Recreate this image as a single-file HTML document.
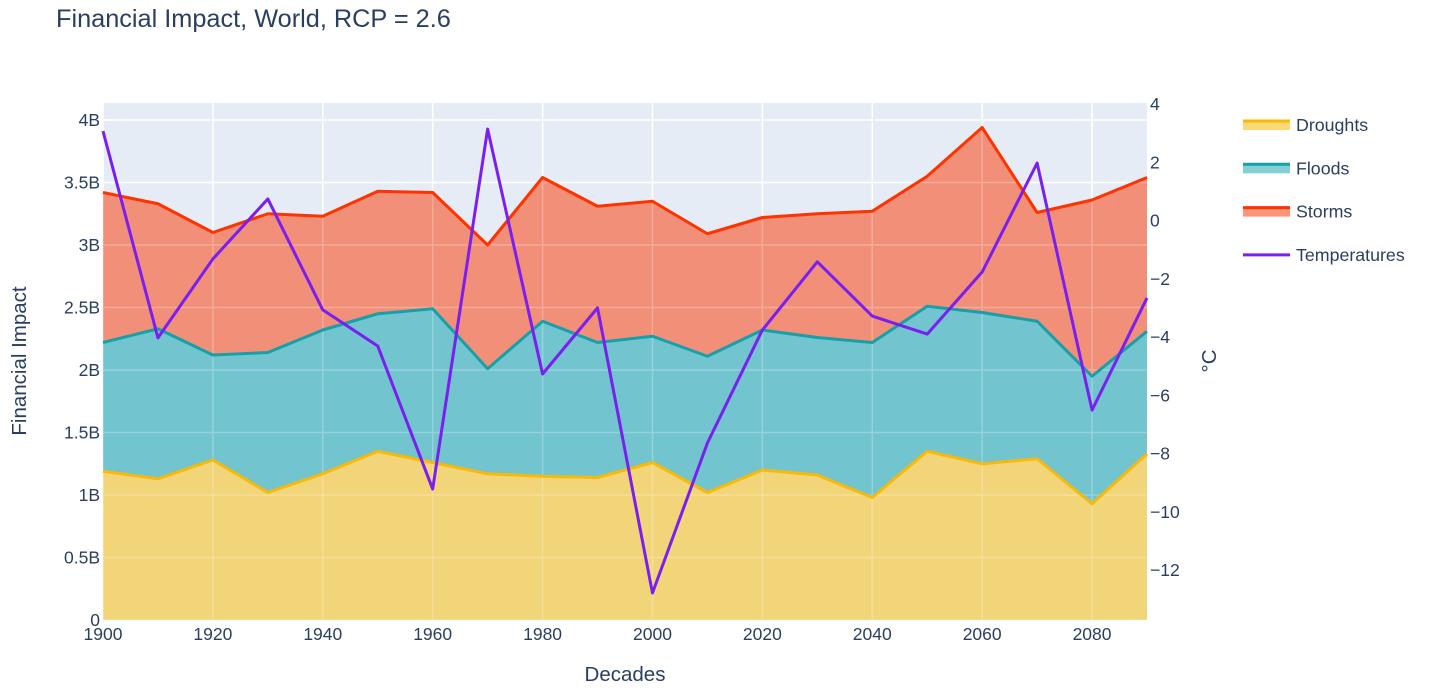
<!DOCTYPE html>
<html><head><meta charset="utf-8"><style>
body{margin:0;background:#fff;}
svg{font-family:"Liberation Sans",sans-serif;}
</style></head><body>
<svg id="chart" width="1431" height="686" xmlns="http://www.w3.org/2000/svg">
<text x="56" y="27" font-size="25.3" fill="#2a3f5f">Financial Impact, World, RCP = 2.6</text>
<rect x="103" y="103" width="1044" height="517" fill="#e5ecf6"/>
<g id="grid"></g><g id="areas"></g><g id="grid2" opacity="0.25"></g><g id="lines"></g><g id="axes"></g>
<text x="625" y="681" font-size="20.5" fill="#2a3f5f" text-anchor="middle">Decades</text>
<text transform="translate(26,361) rotate(-90)" font-size="20.5" fill="#2a3f5f" text-anchor="middle">Financial Impact</text>
<text transform="translate(1216,361) rotate(-90)" font-size="20.5" fill="#2a3f5f" text-anchor="middle">°C</text>
<g id="legend"></g>
</svg>
<script>
const decades=[1900,1910,1920,1930,1940,1950,1960,1970,1980,1990,2000,2010,2020,2030,2040,2050,2060,2070,2080,2090];
const droughts=[1.19,1.13,1.28,1.02,1.17,1.35,1.26,1.17,1.15,1.14,1.26,1.02,1.20,1.16,0.98,1.35,1.25,1.29,0.93,1.33];
const floods=[1.03,1.20,0.84,1.12,1.15,1.10,1.23,0.84,1.24,1.08,1.01,1.09,1.12,1.10,1.24,1.16,1.21,1.10,1.02,0.98];
const storms=[1.20,1.00,0.98,1.11,0.91,0.98,0.93,0.99,1.15,1.09,1.08,0.98,0.90,0.99,1.05,1.04,1.48,0.87,1.41,1.23];
const temps=[3.07,-4.03,-1.32,0.74,-3.07,-4.31,-9.22,3.14,-5.27,-3.00,-12.79,-7.64,-3.76,-1.42,-3.28,-3.90,-1.77,1.97,-6.51,-2.66];
const xTicks=[1900,1920,1940,1960,1980,2000,2020,2040,2060,2080];
const yTicks=[0,0.5,1,1.5,2,2.5,3,3.5,4];
const yTickLabels=["0","0.5B","1B","1.5B","2B","2.5B","3B","3.5B","4B"];
const y2Ticks=[-12,-10,-8,-6,-4,-2,0,2,4];
const NS="http://www.w3.org/2000/svg";
const X=v=>103+(v-1900)*1044/190;
const Y=v=>620-v*125;
const Y2=v=>220.5-v*29.125;
function mk(tag,attrs,parent,txt){const e=document.createElementNS(NS,tag);for(const k in attrs)e.setAttribute(k,attrs[k]);if(txt!==undefined)e.textContent=txt;document.getElementById(parent).appendChild(e);return e;}
xTicks.forEach(t=>{['grid','grid2'].forEach(g=>{const l=mk('line',{x1:X(t),x2:X(t),y1:103,y2:620,stroke:'#fff','stroke-width':1.5},g);

});
const tx=mk('text',{x:X(t),y:640,'font-size':17.5,fill:'#2a3f5f','text-anchor':'middle'},'axes',t);

});
yTicks.forEach((t,i)=>{['grid','grid2'].forEach(g=>{const l=mk('line',{x1:103,x2:1147,y1:Y(t),y2:Y(t),stroke:'#fff','stroke-width':1.5},g);

});
const tx=mk('text',{x:100,y:Y(t)+6,'font-size':17.5,fill:'#2a3f5f','text-anchor':'end'},'axes',yTickLabels[i]);

});
y2Ticks.forEach(t=>{const tx=mk('text',{x:1150,y:Y2(t)+6,'font-size':17.5,fill:'#2a3f5f'},'axes',t<0?'\u2212'+(-t):t);

});
const c1=droughts, c2=droughts.map((d,i)=>d+floods[i]), c3=c2.map((d,i)=>d+storms[i]);
const zero=droughts.map(()=>0);
const series=[[c1,zero,'#f2d479','#f7b90a','droughts'],[c2,c1,'#72c4cf','#17a0a8','floods'],[c3,c2,'#f28f78','#ff3300','storms']];
series.forEach(s=>{const top=s[0].map((v,i)=>X(decades[i])+','+Y(v));const bot=s[1].map((v,i)=>X(decades[i])+','+Y(v)).reverse();
const a=mk('polygon',{points:top.concat(bot).join(' '),fill:s[2]},'areas');


const l=mk('polyline',{points:top.join(' '),fill:'none',stroke:s[3],'stroke-width':3,'stroke-linejoin':'round'},'lines');

});
const tl=mk('polyline',{points:temps.map((v,i)=>X(decades[i])+','+Y2(v)).join(' '),fill:'none',stroke:'#7a1ff0','stroke-width':3,'stroke-linejoin':'round'},'lines');


const leg=[['Droughts','#f7b90a','#fbd97a'],['Floods','#17a0a8','#80d0d4'],['Storms','#ff3300','#ff9478'],['Temperatures','#7a1ff0',null]];
leg.forEach((e,i)=>{const y=125+i*43.3;
if(e[2]){const r=mk('rect',{x:1243,y:y-5,width:47,height:10,fill:e[2]},'legend');

}
const ln=mk('line',{x1:1243,x2:1290,y1:e[2]?y-4:y,y2:e[2]?y-4:y,stroke:e[1],'stroke-width':3},'legend');


const t=mk('text',{x:1296,y:y+6,'font-size':17.8,fill:'#2a3f5f'},'legend',e[0]);

});
</script>
</body></html>
